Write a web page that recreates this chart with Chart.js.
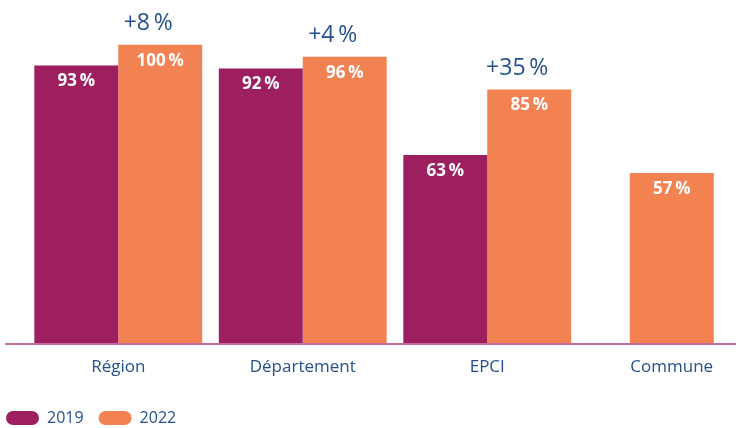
<!DOCTYPE html>
<html>
<head>
<meta charset="utf-8">
<script src="https://cdn.jsdelivr.net/npm/chart.js@4.4.0/dist/chart.umd.min.js"></script>
<style>
  html, body { margin: 0; padding: 0; background: #fff; overflow: hidden; width: 736px; height: 428px; }
  #c { position: absolute; left: -9px; top: 0; }
</style>
</head>
<body>
<canvas id="c" width="773" height="436"></canvas>
<script>
// donnees
var categories = ['Région', 'Département', 'EPCI', 'Commune'];
var values2019 = [93, 92, 63, null];
var values2022 = [100, 96, 85, 57];
var evolutions = ['+8\u2009%', '+4\u2009%', '+35\u2009%', null];
var seriesNames = ['2019', '2022'];

var col2019 = '#9e1f60';
var col2022 = '#f38253';
var blue = '#24508f';
var font = '"Open Sans"';

// etiquettes dans les barres + evolution au dessus
var labelsPlugin = {
	id: 'labels',
	afterDatasetsDraw: function(chart) {
		var ctx = chart.ctx;
		ctx.save();
		ctx.textAlign = 'center';
		ctx.textBaseline = 'middle';
		chart.data.datasets.forEach(function(ds, di) {
			var meta = chart.getDatasetMeta(di);
			meta.data.forEach(function(bar, i) {
				var v = ds.data[i];
				if (v === null) return;
				ctx.fillStyle = '#fff';
				ctx.font = 'bold 17px ' + font;
				ctx.fillText(v + '\u2009%', bar.x, bar.y + 16);
				if (di == 1 && evolutions[i]) {
					ctx.fillStyle = blue;
					ctx.font = '23px ' + font;
					ctx.fillText(evolutions[i], bar.x - 12, bar.y - 21);
				}
			});
		});
		ctx.restore();
	}
};

// ligne de base
var baselinePlugin = {
	id: 'baseline',
	afterDatasetsDraw: function(chart) {
		var ctx = chart.ctx;
		var y0 = chart.scales.y.getPixelForValue(0) + 1;
		ctx.save();
		ctx.strokeStyle = '#c76a9c';
		ctx.lineWidth = 2;
		ctx.beginPath();
		ctx.moveTo(14, y0);
		ctx.lineTo(chart.chartArea.right, y0);
		ctx.stroke();
		ctx.restore();
	}
};

var myChart = new Chart(document.getElementById('c'), {
	type: 'bar',
	data: {
		labels: categories,
		datasets: [
			{ label: seriesNames[0], data: values2019, backgroundColor: col2019, borderWidth: 0 },
			{ label: seriesNames[1], data: values2022, backgroundColor: col2022, borderWidth: 0 }
		]
	},
	options: {
		responsive: false,
		animation: false,
		skipNull: true,
		barPercentage: 1,
		categoryPercentage: 0.91,
		maxBarThickness: 84,
		layout: { padding: 0 },
		scales: {
			x: {
				grid: { display: false, drawTicks: false },
				border: { display: false },
				ticks: { color: blue, font: { family: font, size: 17 }, padding: 14 },
				afterFit: function(s) { s.height = 52; }
			},
			y: {
				min: 0,
				max: 115,
				grid: { display: false, drawTicks: false },
				border: { display: false },
				ticks: { display: false },
				afterFit: function(s) { s.width = 35; }
			}
		},
		plugins: {
			legend: {
				position: 'bottom',
				align: 'start',
				labels: {
					boxWidth: 33,
					boxHeight: 14,
					padding: 15,
					useBorderRadius: true,
					borderRadius: 7,
					color: blue,
					font: { family: font, size: 16 }
				}
			},
			tooltip: { enabled: false }
		}
	},
	plugins: [labelsPlugin, baselinePlugin]
});
</script>
</body>
</html>
